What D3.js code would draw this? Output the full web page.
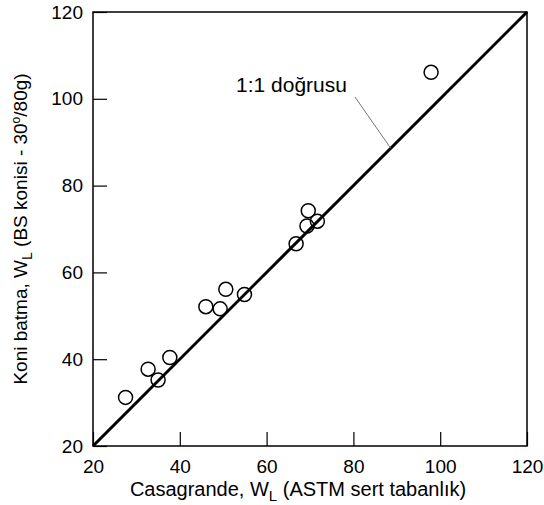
<!DOCTYPE html>
<html>
<head>
<style>
  body { margin: 0; background: #fff; }
  text { font-family: "Liberation Sans", Arial, sans-serif; }
</style>
</head>
<body>
<svg width="544" height="505"></svg>
<script src="https://d3js.org/d3.v7.min.js"></script>
<script>
    // Casagrande vs cone penetration liquid limit
    const casagrande = [27.5, 32.7, 35.0, 37.7, 46.0, 49.3, 50.6, 54.9, 66.8, 69.3, 69.6, 71.7, 97.9];
    const coneWL = [31.2, 37.7, 35.2, 40.4, 52.1, 51.6, 56.1, 54.9, 66.6, 70.7, 74.2, 71.8, 106.1];
    const tickValues = [20, 40, 60, 80, 100, 120];
    const lineEnds = [20, 120];

    const svg = d3.select("svg"),
        margin = {top: 12, right: 17, bottom: 59, left: 93},
        width = 544 - margin.left - margin.right,
        height = 505 - margin.top - margin.bottom,
        g = svg.append("g").attr("transform", "translate(" + margin.left + "," + margin.top + ")");

    const x = d3.scaleLinear().domain([20, 120]).range([0, width]);
    const y = d3.scaleLinear().domain([20, 120]).range([height, 0]);

    // frame
    g.append("rect")
        .attr("width", width).attr("height", height)
        .attr("fill", "none").attr("stroke", "#000").attr("stroke-width", 1.5);

    const xAxis = g.append("g")
        .attr("transform", "translate(0," + height + ")")
        .call(d3.axisBottom(x).tickValues(tickValues).tickSizeInner(-14).tickSizeOuter(0).tickPadding(10));
    const yAxis = g.append("g")
        .call(d3.axisLeft(y).tickValues(tickValues).tickSizeInner(-14).tickSizeOuter(0).tickPadding(10));

    [xAxis, yAxis].forEach(function(a) {
        a.select(".domain").remove();
        a.selectAll("line").attr("stroke", "#000").attr("stroke-width", 1.2);
        a.selectAll("text").attr("font-size", 19).attr("fill", "#000")
            .style("font-family", "'Liberation Sans', Arial, sans-serif");
    });
    xAxis.selectAll("text").attr("y", 0).attr("dy", 27);
    yAxis.selectAll("text").attr("x", -10);

    // 1:1 line
    g.append("line")
        .attr("x1", x(lineEnds[0])).attr("y1", y(lineEnds[0]))
        .attr("x2", x(lineEnds[1])).attr("y2", y(lineEnds[1]))
        .attr("stroke", "#000").attr("stroke-width", 3);

    // points
    g.selectAll(".pt")
        .data(casagrande)
        .enter().append("circle")
        .attr("class", "pt")
        .attr("cx", function(d) { return x(d); })
        .attr("cy", function(d, i) { return y(coneWL[i]); })
        .attr("r", 7)
        .attr("fill", "none")
        .attr("stroke", "#000")
        .attr("stroke-width", 1.5);

    // annotation
    g.append("text")
        .attr("x", 143).attr("y", 80)
        .attr("font-size", 21)
        .text("1:1 doğrusu");
    g.append("line")
        .attr("x1", 262).attr("y1", 85)
        .attr("x2", x(88.6)).attr("y2", y(88.6))
        .attr("stroke", "#777").attr("stroke-width", 1);

    // axis titles
    const xt = svg.append("text")
        .attr("x", 298).attr("y", 496)
        .attr("text-anchor", "middle").attr("font-size", 20);
    xt.append("tspan").text("Casagrande, W");
    xt.append("tspan").attr("font-size", 15).attr("dy", 5).text("L");
    xt.append("tspan").attr("dy", -5).text(" (ASTM sert tabanlık)");

    const yt = svg.append("text")
        .attr("transform", "translate(27," + (margin.top + height / 2) + ") rotate(-90)")
        .attr("text-anchor", "middle").attr("font-size", 19);
    yt.append("tspan").text("Koni batma, W");
    yt.append("tspan").attr("font-size", 14).attr("dy", 5).text("L");
    yt.append("tspan").attr("dy", -5).text(" (BS konisi - 30");
    yt.append("tspan").attr("font-size", 12).attr("dy", -7).text("o");
    yt.append("tspan").attr("dy", 7).text("/80g)");
</script>
</body>
</html>
